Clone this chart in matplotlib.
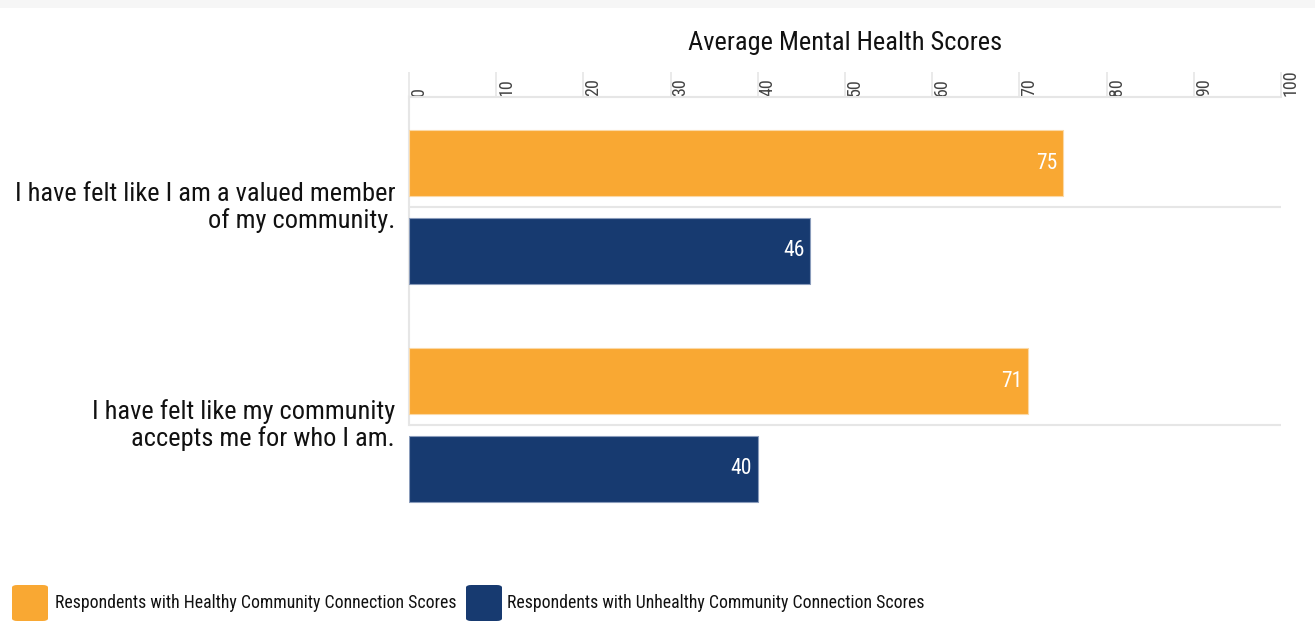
import matplotlib

matplotlib.use("Agg")
import matplotlib.pyplot as plt
from matplotlib.patches import FancyBboxPatch, Rectangle
from matplotlib.transforms import ScaledTranslation

FONT = ["Roboto Condensed", "Roboto", "DejaVu Sans"]
plt.rcParams["font.family"] = FONT

QUESTIONS = [
    "I have felt like I am a valued member\nof my community.",
    "I have felt like my community\naccepts me for who I am.",
]
HEALTHY = [75, 71]
UNHEALTHY = [46, 40]
SERIES_NAMES = [
    "Respondents with Healthy Community Connection Scores",
    "Respondents with Unhealthy Community Connection Scores",
]
X_TICKS = [0, 10, 20, 30, 40, 50, 60, 70, 80, 90, 100]

ORANGE = "#f9a833"
NAVY = "#173a70"
GRID = "#e6e6e6"

W, H = 1315, 643
fig = plt.figure(figsize=(W / 100, H / 100), dpi=100)
fig.patch.set_facecolor("white")

# light strip across the top edge
fig.add_artist(Rectangle((0, 1 - 8 / H), 1, 8 / H, transform=fig.transFigure,
                         facecolor="#f6f6f6", edgecolor="none"))

ax = fig.add_axes([409 / W, 1 - 530 / H, (1281 - 409) / W, (530 - 97) / H])

ypos = list(range(len(QUESTIONS)))
bar_h = 0.303
off = 0.2
b1 = ax.barh([y - off for y in ypos], HEALTHY, height=bar_h, color=ORANGE,
             edgecolor="#fbd9a6", linewidth=0.8, zorder=3)
b2 = ax.barh([y + off for y in ypos], UNHEALTHY, height=bar_h, color=NAVY,
             edgecolor="#8a9cbb", linewidth=0.8, zorder=3)

for bars, vals in ((b1, HEALTHY), (b2, UNHEALTHY)):
    for bar, v in zip(bars, vals):
        ax.annotate(f"{v}", (v, bar.get_y() + bar.get_height() / 2),
                    xytext=(-4, 0), textcoords="offset points",
                    ha="right", va="center", color="white", fontsize=15.5, zorder=4)

ax.set_xlim(0, 100)
ax.set_ylim(1.482, -0.505)

# category gridlines through the middle of each group
for y in ypos:
    ax.axhline(y, color=GRID, linewidth=1.5, zorder=1)
ax.plot([0, 0], [-0.505, ypos[-1]], color=GRID, linewidth=1.5, zorder=1,
        clip_on=False)

ax.set_yticks(ypos)
ax.set_yticklabels(QUESTIONS, fontsize=19, color="#111111", ha="right",
                   multialignment="right", linespacing=1.1)
ax.tick_params(axis="y", length=0, pad=10)
for lbl in ax.get_yticklabels():
    lbl.set_transform(lbl.get_transform()
                      + ScaledTranslation(0, 3 / 100, fig.dpi_scale_trans))

ax.xaxis.tick_top()
ax.set_xticks(X_TICKS)
ax.set_xticklabels([str(t) for t in X_TICKS], rotation=90, fontsize=13,
                   color="#444444", va="bottom", ha="center")
ax.tick_params(axis="x", direction="out", length=18, width=1.2, color=GRID, pad=1)
for lbl in ax.get_xticklabels():
    lbl.set_transform(lbl.get_transform()
                      + ScaledTranslation(10 / 100, -25 / 100, fig.dpi_scale_trans))

for side in ("left", "right", "bottom"):
    ax.spines[side].set_visible(False)
ax.spines["top"].set_color(GRID)
ax.spines["top"].set_linewidth(1.5)

fig.text(845 / W, 1 - 43 / H, "Average Mental Health Scores", ha="center",
         va="center", fontsize=19, color="#111111")

# legend along the bottom
legend_items = [(12, 55, ORANGE, SERIES_NAMES[0]), (466, 507, NAVY, SERIES_NAMES[1])]
for px, tx, col, name in legend_items:
    fig.add_artist(FancyBboxPatch((px / W, 1 - 621 / H), 36 / W, 36 / H,
                                  boxstyle="round,pad=0,rounding_size=0.004",
                                  transform=fig.transFigure, facecolor=col,
                                  edgecolor="none"))
    fig.text(tx / W, 1 - 603 / H, name, ha="left", va="center", fontsize=12.8,
             color="#111111")

fig.savefig("out.png", dpi=100)
